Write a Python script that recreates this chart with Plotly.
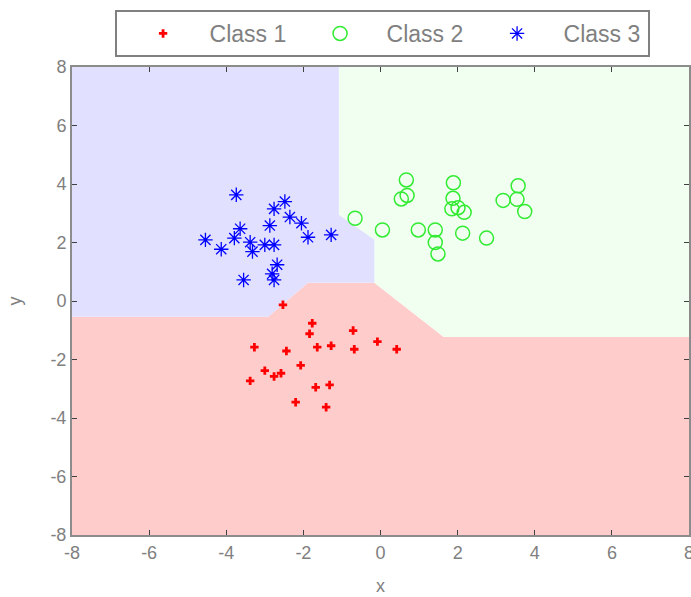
import plotly.graph_objects as go

# ---- data ----
class1_x = [-2.53, -1.77, -1.84, -0.71, -0.08, 0.42, -3.27, -2.44, -1.64, -1.28,
            -0.68, -2.07, -3.00, -2.76, -2.58, -3.38, -1.68, -1.32, -2.20, -1.41]
class1_y = [-0.13, -0.76, -1.12, -1.01, -1.39, -1.65, -1.58, -1.71, -1.58, -1.53,
            -1.65, -2.20, -2.38, -2.58, -2.47, -2.73, -2.95, -2.87, -3.46, -3.63]

class2_x = [0.67, 0.54, 0.69, 1.89, 1.88, 1.85, 2.17, 2.13, 3.57, 3.18,
            3.54, 3.74, 2.75, -0.66, 0.05, 0.98, 1.42, 1.42, 1.49, 2.01]
class2_y = [4.14, 3.49, 3.61, 4.04, 3.51, 3.15, 3.03, 2.32, 3.94, 3.44,
            3.48, 3.06, 2.15, 2.83, 2.43, 2.43, 2.43, 2.00, 1.61, 3.19]

class3_x = [-3.74, -2.48, -2.76, -2.35, -2.05, -2.87, -3.64, -1.88, -3.79, -4.54,
            -3.38, -3.00, -2.76, -4.13, -3.32, -1.28, -2.68, -2.81, -2.76, -3.55]
class3_y = [3.63, 3.40, 3.15, 2.87, 2.66, 2.58, 2.47, 2.18, 2.15, 2.09,
            2.01, 1.92, 1.92, 1.77, 1.69, 2.26, 1.24, 0.93, 0.72, 0.72]

# decision region boundaries (data coordinates)
region3_x = [-8, -1.08, -1.08, -0.16, -0.16, -1.88, -2.91, -8]
region3_y = [8, 8, 2.95, 2.09, 0.62, 0.62, -0.54, -0.54]
region2_x = [-1.08, 8, 8, 1.64, -0.16, -0.16, -1.08]
region2_y = [8, 8, -1.23, -1.23, 0.62, 2.09, 2.95]
region1_x = [-8, -2.91, -1.88, -0.16, 1.64, 8, 8, -8]
region1_y = [-0.54, -0.54, 0.62, 0.62, -1.23, -1.23, -8, -8]

tick_vals = [-8, -6, -4, -2, 0, 2, 4, 6, 8]
tick_text = ["-8", "-6", "-4", "-2", "0", "2", "4", "6", "8"]

fig = go.Figure()

for rx, ry, col in [(region1_x, region1_y, "#ffcccc"),
                    (region2_x, region2_y, "#f1fff1"),
                    (region3_x, region3_y, "#e1e1ff")]:
    fig.add_trace(go.Scatter(x=rx, y=ry, fill="toself", fillcolor=col, mode="lines",
                             line=dict(width=0, color=col), showlegend=False,
                             hoverinfo="skip"))

fig.add_trace(go.Scatter(x=class1_x, y=class1_y, mode="markers", name="Class 1",
                         marker=dict(symbol="cross", size=7, color="#ff0000",
                                     line=dict(width=0))))
fig.add_trace(go.Scatter(x=class2_x, y=class2_y, mode="markers", name="Class 2",
                         marker=dict(symbol="circle-open", size=14,
                                     color="rgb(50,235,50)", line=dict(width=1.5))))
fig.add_trace(go.Scatter(x=class3_x, y=class3_y, mode="markers", name="Class 3",
                         marker=dict(symbol="asterisk-open", size=12,
                                     color="#0000ff", line=dict(width=1.3, color="#0000ff"))))

axis_common = dict(range=[-8, 8], tickvals=tick_vals, ticktext=tick_text,
                   ticks="inside", ticklen=5, tickcolor="#404040", tickwidth=1,
                   showline=True, linecolor="#8c8c8c", linewidth=2, mirror="ticks",
                   showgrid=False, zeroline=False, ticklabeloverflow="allow",
                   tickfont=dict(family="Liberation Sans", size=18, color="#808080"))

fig.update_layout(
    width=694, height=597,
    margin=dict(l=72, r=0, t=67, b=62),
    paper_bgcolor="white", plot_bgcolor="white",
    xaxis=dict(axis_common, title=dict(text="x", standoff=18,
               font=dict(family="Liberation Sans", size=18, color="#808080"))),
    yaxis=dict(axis_common, title=dict(text="y", standoff=24,
               font=dict(family="Liberation Sans", size=18, color="#808080"))),
    legend=dict(orientation="h", x=0.069, y=1.1218, xanchor="left", yanchor="top",
                bgcolor="white", bordercolor="#808080", borderwidth=2,
                itemwidth=83, entrywidth=79, entrywidthmode="pixels",
                font=dict(family="Liberation Sans", size=23, color="#808080")),
)

fig.write_html("out.html", config={"displayModeBar": False},
               post_script="document.body.style.margin='0';document.body.style.overflow='hidden';"
                           "document.documentElement.style.overflow='hidden';")
